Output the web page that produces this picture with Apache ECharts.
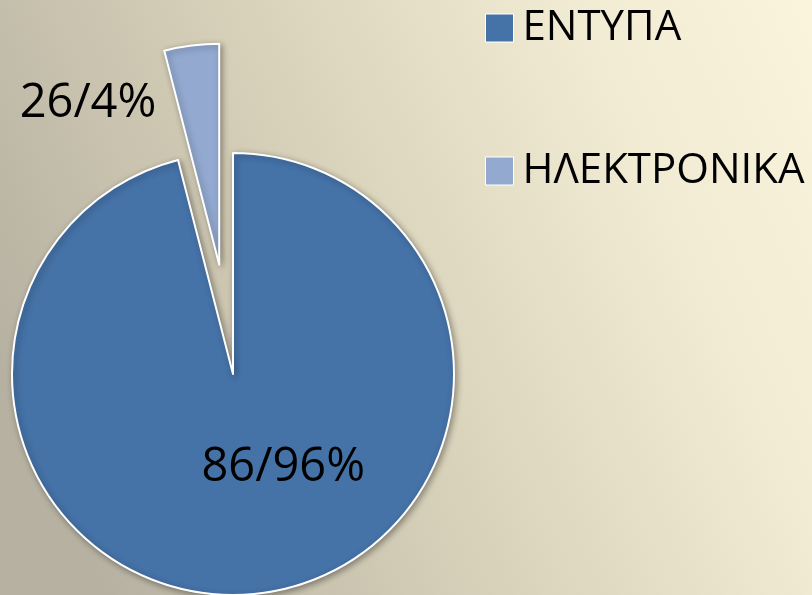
<!DOCTYPE html>
<html>
<head>
<meta charset="utf-8">
<script src="https://cdn.jsdelivr.net/npm/echarts@6/dist/echarts.min.js"></script>
<style>html,body{margin:0;padding:0;}#c{width:812px;height:595px;}</style>
</head>
<body>
<div id="c"></div>
<script>
var categories = ['ΕΝΤΥΠΑ', 'ΗΛΕΚΤΡΟΝΙΚΑ'];
var values = [96, 4];
var labelTexts = ['86/96%', '26/4%'];
var colors = ['#4572a7', '#93a9d0'];
var labelShift = [[36, -19], [-117, -49]];

var chart = echarts.init(document.getElementById('c'), null, {renderer: 'canvas'});
var data = categories.map(function (name, i) {
  var item = { name: name, value: values[i], itemStyle: { color: colors[i] },
    label: { show: true, position: 'inside', formatter: labelTexts[i] } };
  if (i === 1) item.selected = true;
  return item;
});

chart.setOption({
  animation: false,
  backgroundColor: {
    type: 'linear', x: 0, y: 0.6, x2: 1, y2: 0,
    colorStops: [
      { offset: 0, color: '#b6b1a1' },
      { offset: 0.45, color: '#dcd5bd' },
      { offset: 0.75, color: '#f2ebd3' },
      { offset: 1, color: '#fbf4dc' }
    ]
  },
  legend: {
    orient: 'vertical',
    left: 485,
    top: 7,
    padding: 0,
    itemWidth: 28,
    itemHeight: 28,
    itemGap: 101,
    icon: 'rect',
    selectedMode: false,
    itemStyle: { borderColor: '#ffffff', borderWidth: 1 },
    textStyle: { fontFamily: 'Open Sans', fontSize: 42, color: '#000', padding: [0, 0, 0, 4] },
    data: categories
  },
  series: [{
    type: 'pie',
    center: [233, 374],
    radius: [0, 221],
    startAngle: 90,
    clockwise: true,
    selectedMode: 'single',
    selectedOffset: 110,
    avoidLabelOverlap: false,
    label: { fontFamily: 'Open Sans', fontSize: 47, color: '#000' },
    labelLine: { show: false },
    labelLayout: function (params) {
      var s = labelShift[params.dataIndex];
      return { dx: s[0], dy: s[1] };
    },
    emphasis: { disabled: true },
    itemStyle: {
      borderColor: '#ffffff',
      borderWidth: 2,
      shadowBlur: 6,
      shadowOffsetX: 2,
      shadowOffsetY: 2,
      shadowColor: 'rgba(0,0,0,0.35)'
    },
    data: data
  }]
});
</script>
</body>
</html>
